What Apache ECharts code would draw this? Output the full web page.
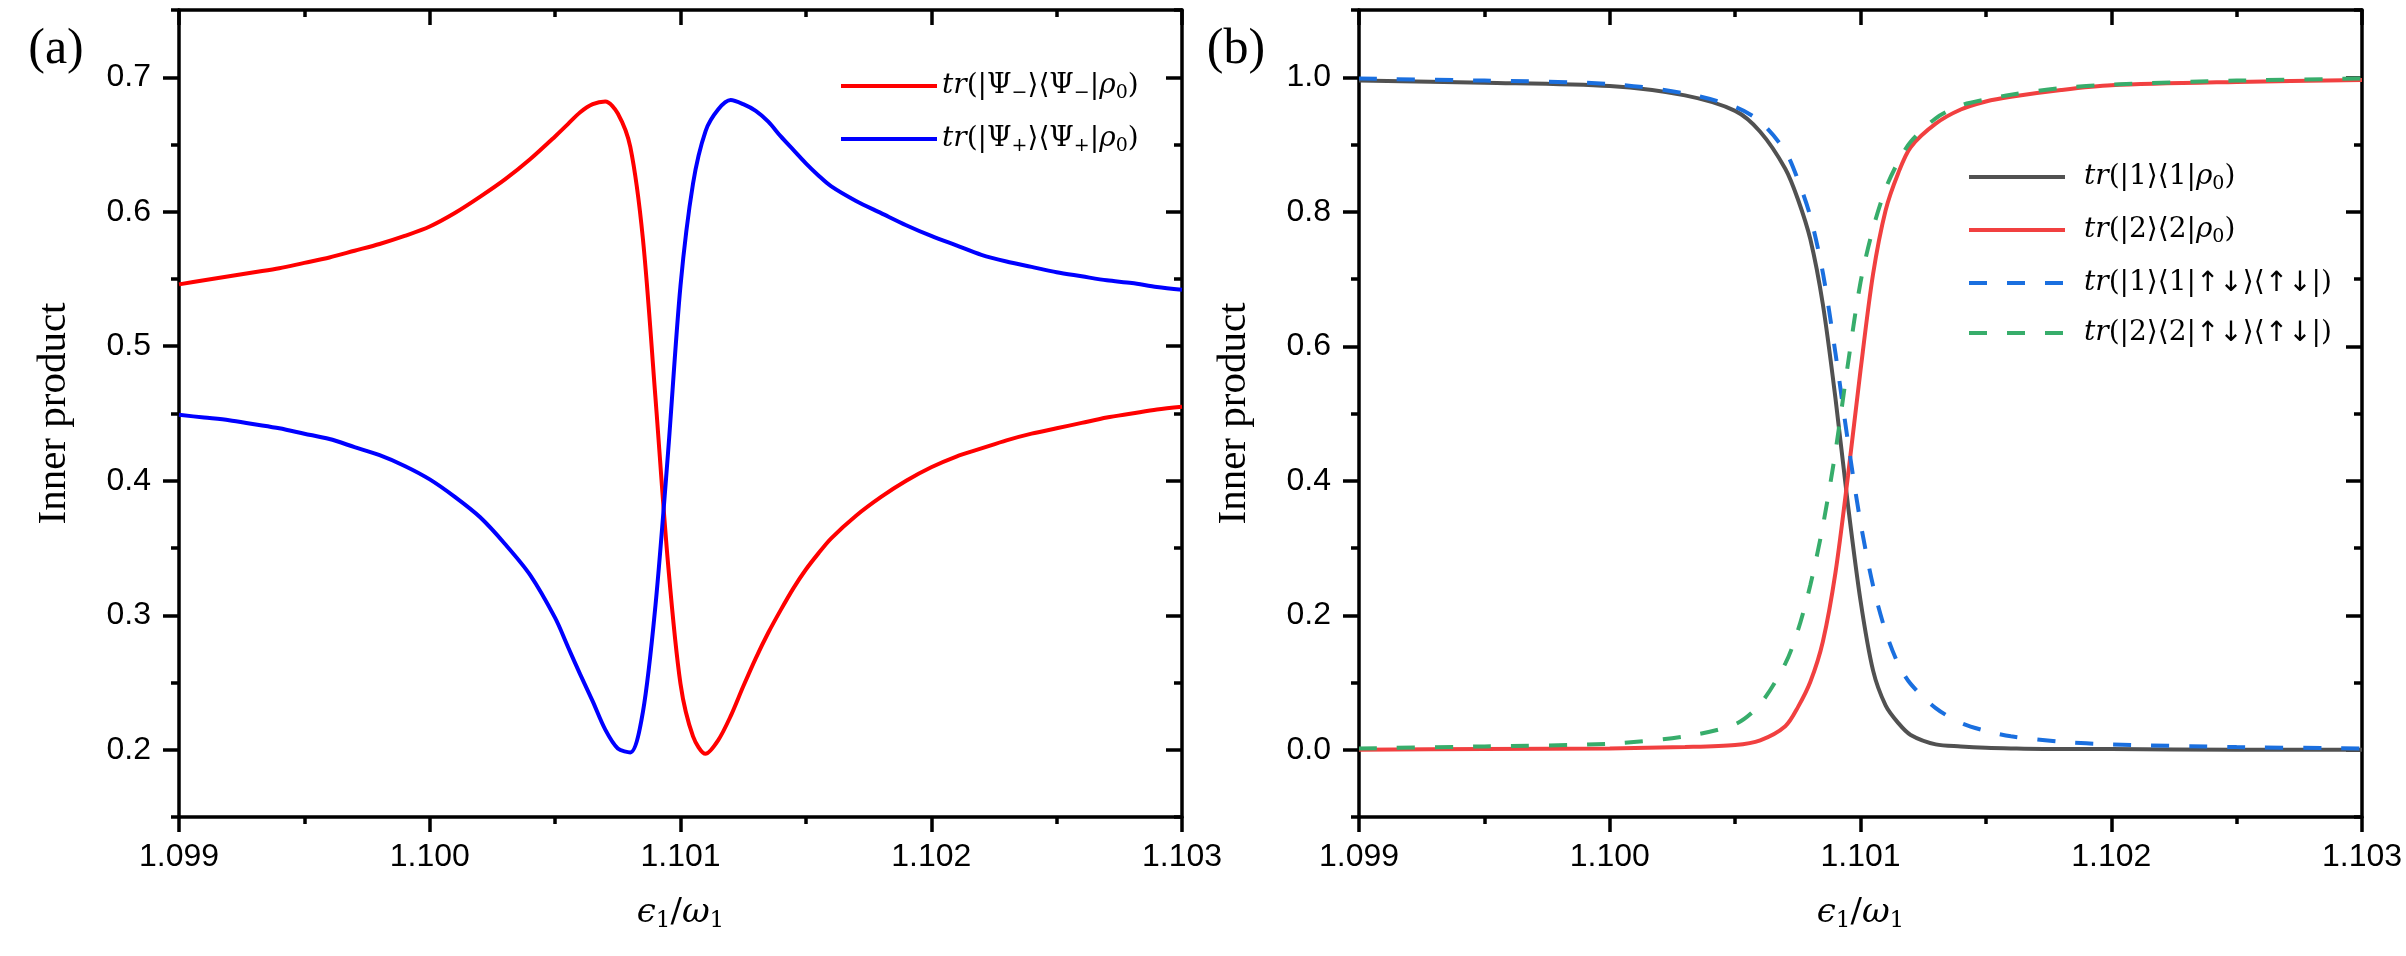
<!DOCTYPE html>
<html>
<head>
<meta charset="utf-8">
<title>inner product</title>
<script src="https://cdn.jsdelivr.net/npm/echarts@6.0.0/dist/echarts.min.js"></script>
<style>
html, body { margin: 0; padding: 0; background: #fff; }
#main { width: 2406px; height: 956px; }
</style>
</head>
<body>
<div id="main"></div>
<script>
// panel (a)
const xA = [1.0990, 1.0991, 1.0992, 1.0993, 1.0994, 1.0995, 1.0996, 1.0997, 1.0998, 1.0999,
  1.1000, 1.1001, 1.1002, 1.1003, 1.1004, 1.1005,
  1.10055, 1.1006, 1.10065, 1.1007, 1.10075, 1.1008, 1.10085, 1.1009, 1.10095,
  1.1010, 1.10105, 1.1011, 1.10115, 1.1012, 1.10125, 1.1013, 1.10135, 1.1014, 1.10145,
  1.1015, 1.10155, 1.1016, 1.1017, 1.1018, 1.1019, 1.1020, 1.1021, 1.1022, 1.1023,
  1.1024, 1.1025, 1.1026, 1.1027, 1.1028, 1.1029, 1.1030]
const psiMinus = [0.546, 0.549, 0.552, 0.555, 0.558, 0.562, 0.566, 0.571, 0.576, 0.582,
  0.589, 0.599, 0.611, 0.624, 0.639, 0.656,
  0.665, 0.674, 0.680, 0.682, 0.673, 0.648, 0.580, 0.462, 0.339,
  0.249, 0.210, 0.197, 0.207, 0.225, 0.247, 0.268, 0.287, 0.304, 0.320,
  0.334, 0.346, 0.357, 0.374, 0.388, 0.400, 0.410, 0.418, 0.424, 0.430,
  0.435, 0.439, 0.443, 0.447, 0.450, 0.453, 0.455]
const psiPlus = [0.449, 0.447, 0.445, 0.442, 0.439, 0.435, 0.431, 0.425, 0.419, 0.411,
  0.401, 0.388, 0.373, 0.353, 0.330, 0.298,
  0.277, 0.256, 0.236, 0.215, 0.201, 0.198, 0.228, 0.307, 0.420,
  0.545, 0.621, 0.660, 0.676, 0.683, 0.680, 0.675, 0.667, 0.656, 0.646,
  0.636, 0.627, 0.619, 0.608, 0.599, 0.590, 0.582, 0.575, 0.568, 0.563,
  0.559, 0.555, 0.552, 0.549, 0.547, 0.544, 0.542]

// panel (b)
const xB = [1.099, 1.0995, 1.100, 1.1003, 1.1005, 1.1006, 1.1007, 1.10075, 1.1008, 1.10085, 1.1009, 1.10095,
  1.1010, 1.10105, 1.1011, 1.10115, 1.1012, 1.1013, 1.1014, 1.1015, 1.1016, 1.1018, 1.1020, 1.1025, 1.103]
const state1 = [0.995, 0.992, 0.987, 0.973, 0.950, 0.919, 0.864, 0.819, 0.759, 0.662, 0.523, 0.364,
  0.222, 0.118, 0.066, 0.040, 0.022, 0.008, 0.005, 0.003, 0.002, 0.001, 0.001, 0.000, 0.000]
const state2 = [0.000, 0.001, 0.002, 0.004, 0.007, 0.014, 0.035, 0.063, 0.101, 0.161, 0.263, 0.407,
  0.564, 0.707, 0.802, 0.857, 0.896, 0.931, 0.952, 0.964, 0.971, 0.981, 0.988, 0.993, 0.996]
const state1UpDown = [0.998, 0.995, 0.990, 0.976, 0.956, 0.934, 0.890, 0.848, 0.793, 0.709, 0.590, 0.458,
  0.338, 0.244, 0.176, 0.128, 0.098, 0.062, 0.040, 0.028, 0.020, 0.012, 0.008, 0.004, 0.002]
const state2UpDown = [0.002, 0.005, 0.009, 0.020, 0.038, 0.068, 0.128, 0.177, 0.245, 0.333, 0.443, 0.574,
  0.695, 0.775, 0.834, 0.874, 0.904, 0.939, 0.958, 0.967, 0.974, 0.984, 0.989, 0.995, 0.998]

// tick labels
const xTicks = [1.099, 1.100, 1.101, 1.102, 1.103]
const yTicksA = [0.2, 0.3, 0.4, 0.5, 0.6, 0.7]
const yTicksB = [0.0, 0.2, 0.4, 0.6, 0.8, 1.0]

const namesA = ['tr(|Ψ−⟩⟨Ψ−|ρ0)', 'tr(|Ψ+⟩⟨Ψ+|ρ0)']
const namesB = ['tr(|1⟩⟨1|ρ0)', 'tr(|2⟩⟨2|ρ0)', 'tr(|1⟩⟨1|↑↓⟩⟨↑↓|)', 'tr(|2⟩⟨2|↑↓⟩⟨↑↓|)']

const richNames = {
  'tr(|Ψ−⟩⟨Ψ−|ρ0)': '{i|tr}{n|(|Ψ}{s|−}{n|⟩⟨Ψ}{s|−}{n||}{i|ρ}{s|0}{n|)}',
  'tr(|Ψ+⟩⟨Ψ+|ρ0)': '{i|tr}{n|(|Ψ}{s|+}{n|⟩⟨Ψ}{s|+}{n||}{i|ρ}{s|0}{n|)}',
  'tr(|1⟩⟨1|ρ0)': '{g| }{i|tr}{n|(|1⟩⟨1|}{i|ρ}{s|0}{n|)}',
  'tr(|2⟩⟨2|ρ0)': '{g| }{i|tr}{n|(|2⟩⟨2|}{i|ρ}{s|0}{n|)}',
  'tr(|1⟩⟨1|↑↓⟩⟨↑↓|)': '{g| }{i|tr}{n|(|1⟩⟨1|}{a|↑↓}{n|⟩⟨}{a|↑↓}{n||)}',
  'tr(|2⟩⟨2|↑↓⟩⟨↑↓|)': '{g| }{i|tr}{n|(|2⟩⟨2|}{a|↑↓}{n|⟩⟨}{a|↑↓}{n||)}'
}

const mathFont = '"DejaVu Serif", serif'
const richStyle = {
  i: { fontFamily: mathFont, fontStyle: 'italic', fontSize: 28, lineHeight: 34, color: '#000' },
  n: { fontFamily: mathFont, fontSize: 28, lineHeight: 34, color: '#000' },
  a: { fontFamily: '"Noto Sans", "DejaVu Sans", sans-serif', fontSize: 28, lineHeight: 34, color: '#000' },
  s: { fontFamily: mathFont, fontSize: 19, lineHeight: 14, verticalAlign: 'bottom', color: '#000' },
  g: { width: 14 }
}

const pair = (xs, ys) => xs.map((x, i) => [x, ys[i]])
const black = '#000'
const tickStyle = { color: black, width: 3.5 }

function xAxes(grid) {
  const base = {
    type: 'value', gridIndex: grid, min: 1.099, max: 1.103, interval: 0.001,
    splitLine: { show: false },
    axisLine: { show: true, onZero: false, lineStyle: { color: black, width: 3.5 } }
  }
  return [
    {
      ...base, position: 'bottom',
      axisTick: { show: true, length: 15, lineStyle: tickStyle },
      minorTick: { show: true, splitNumber: 2, length: 7, lineStyle: tickStyle },
      axisLabel: {
        customValues: xTicks, formatter: v => v.toFixed(3), margin: 24,
        fontSize: 32, fontFamily: '"Liberation Sans", Arial, sans-serif', color: black
      },
      name: '{i|ϵ}{s|1}{n|/}{i|ω}{s|1}', nameLocation: 'middle', nameGap: 76,
      nameTextStyle: {
        rich: {
          i: { fontFamily: mathFont, fontStyle: 'italic', fontSize: 34, lineHeight: 40, color: black },
          n: { fontFamily: mathFont, fontSize: 34, lineHeight: 40, color: black },
          s: { fontFamily: mathFont, fontSize: 23, lineHeight: 16, verticalAlign: 'bottom', color: black }
        }
      }
    },
    {
      ...base, position: 'top',
      axisTick: { show: true, inside: true, length: 15, lineStyle: tickStyle },
      minorTick: { show: true, splitNumber: 2, length: 7, lineStyle: tickStyle },
      axisLabel: { show: false }
    }
  ]
}

// ticks are counted from min, so the scale ticks land on the half steps
// and the minor ticks land on the labelled values
function yAxes(grid, min, max, step, labels) {
  const base = {
    type: 'value', gridIndex: grid, min: min, max: max, interval: step,
    splitLine: { show: false },
    axisLine: { show: true, onZero: false, lineStyle: { color: black, width: 3.5 } },
    minorTick: { show: true, splitNumber: 2, length: 16, lineStyle: tickStyle }
  }
  return [
    {
      ...base, position: 'left',
      axisTick: { show: true, length: 8, lineStyle: tickStyle },
      axisLabel: {
        customValues: labels, formatter: v => v.toFixed(1), margin: 28,
        fontSize: 32, fontFamily: '"Liberation Sans", Arial, sans-serif', color: black
      },
      name: 'Inner product', nameLocation: 'middle', nameGap: 104,
      nameTextStyle: { fontFamily: '"Liberation Serif", "Times New Roman", serif', fontSize: 41, color: black }
    },
    {
      ...base, position: 'right',
      axisTick: { show: true, inside: true, length: 8, lineStyle: tickStyle },
      axisLabel: { show: false }
    }
  ]
}

function line(name, xs, ys, xi, color, dashed) {
  return {
    name: name, type: 'line', xAxisIndex: xi, yAxisIndex: xi,
    data: pair(xs, ys), showSymbol: false, symbol: 'none', smooth: 0.3,
    lineStyle: { color: color, width: 4, type: dashed ? [18, 20] : 'solid' },
    itemStyle: { color: color }
  }
}

const legendBase = {
  orient: 'vertical', itemWidth: 96, itemHeight: 30, itemGap: 22, padding: 0,
  selectedMode: false, formatter: n => richNames[n], textStyle: { rich: richStyle },
  itemStyle: { opacity: 0 }, lineStyle: { width: 4 }
}

const option = {
  animation: false,
  backgroundColor: '#fff',
  grid: [
    { left: 179, right: 1224, top: 10, bottom: 139 },
    { left: 1359, right: 44, top: 10, bottom: 139 }
  ],
  xAxis: [...xAxes(0), ...xAxes(1)],
  yAxis: [...yAxes(0, 0.15, 0.75, 0.1, yTicksA), ...yAxes(1, -0.1, 1.1, 0.2, yTicksB)],
  legend: [
    { ...legendBase, left: 839, top: 72, data: namesA },
    { ...legendBase, left: 1967, top: 163, data: namesB }
  ],
  graphic: [
    { type: 'text', x: 56, y: 50, style: { text: '(a)', font: '50px "Liberation Serif", serif', fill: black, align: 'center', verticalAlign: 'middle' } },
    { type: 'text', x: 1236, y: 50, style: { text: '(b)', font: '50px "Liberation Serif", serif', fill: black, align: 'center', verticalAlign: 'middle' } }
  ],
  series: [
    line(namesA[0], xA, psiMinus, 0, '#FF0000', false),
    line(namesA[1], xA, psiPlus, 0, '#0000FF', false),
    line(namesB[0], xB, state1, 2, '#515151', false),
    line(namesB[1], xB, state2, 2, '#F14040', false),
    line(namesB[2], xB, state1UpDown, 2, '#1A6FDF', true),
    line(namesB[3], xB, state2UpDown, 2, '#37AD6B', true)
  ]
}

const myChart = echarts.init(document.getElementById('main'))
myChart.setOption(option)
</script>
</body>
</html>
